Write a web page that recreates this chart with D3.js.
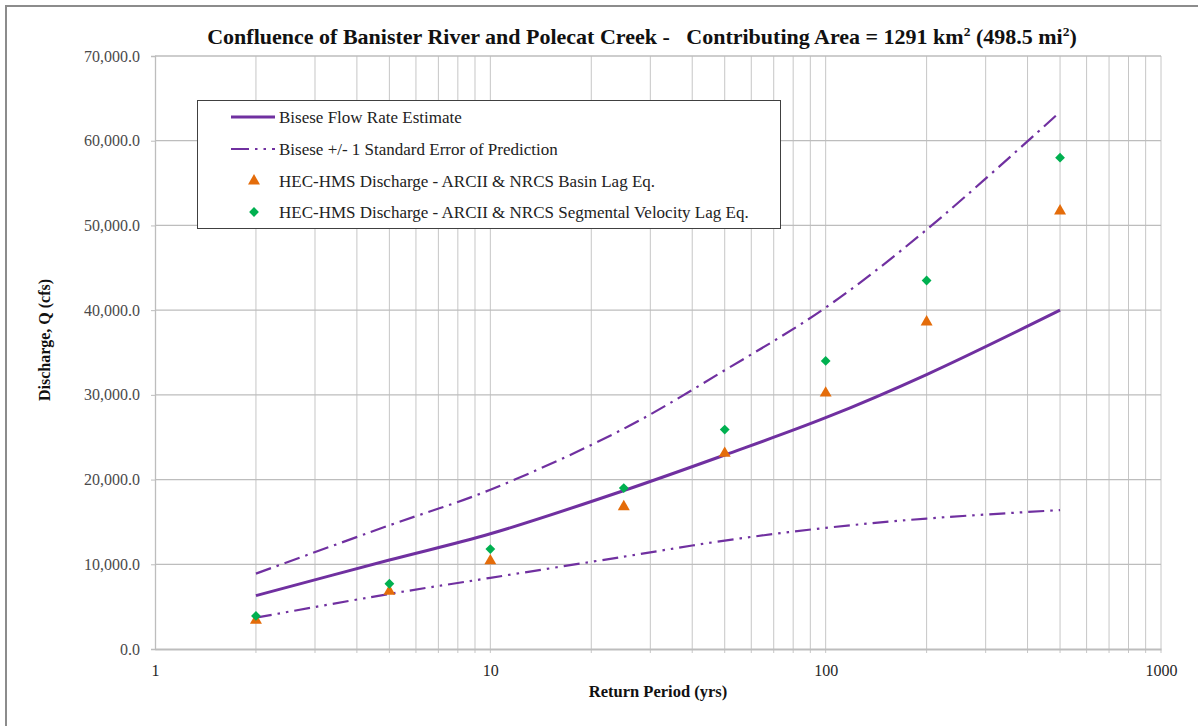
<!DOCTYPE html>
<html>
<head>
<meta charset="utf-8">
<script src="https://cdn.jsdelivr.net/npm/d3@7"></script>
<style>
  body { margin: 0; background: #fff; }
  svg { display: block; font-family: "Liberation Serif", "Times New Roman", serif; }
</style>
</head>
<body>
<svg id="chart"></svg>
<script>
// data
const periods   = [2, 5, 10, 25, 50, 100, 200, 500];
const bisese    = [6300, 10500, 13600, 18700, 22900, 27300, 32400, 40000];
const upperSE   = [8900, 14600, 18800, 26000, 32900, 40300, 49500, 63400];
const lowerSE   = [3700, 6500, 8400, 10900, 12800, 14300, 15400, 16400];
const basinLag  = [3400, 6800, 10400, 16800, 23100, 30200, 38600, 51700];
const segLag    = [3900, 7700, 11800, 19000, 25900, 34000, 43500, 58000];
const yTicks    = [0, 10000, 20000, 30000, 40000, 50000, 60000, 70000];
const xTicks    = [1, 10, 100, 1000];
const legendLabels = [
  'Bisese Flow Rate Estimate',
  'Bisese +/- 1 Standard Error of Prediction',
  'HEC-HMS Discharge - ARCII & NRCS Basin Lag Eq.',
  'HEC-HMS Discharge - ARCII & NRCS Segmental Velocity Lag Eq.'
];

const width = 1198, height = 726;
const plot = { left: 155, right: 1161, top: 56, bottom: 649 };
const purple = '#7030a0', orange = '#e46c0a', green = '#00b050', grid = '#c6c6c6';

const svg = d3.select('#chart').attr('width', width).attr('height', height);

// outer chart frame
svg.append('rect')
  .attr('x', 6).attr('y', 6).attr('width', 1200).attr('height', 740)
  .attr('fill', 'none').attr('stroke', '#8c8c8c').attr('stroke-width', 2);

// scales
const x = d3.scaleLog().domain([1, 1000]).range([plot.left, plot.right]);
const y = d3.scaleLinear().domain([0, 70000]).range([plot.bottom, plot.top]);

// minor log gridlines
const minor = [];
for (let dec = 1; dec < 1000; dec *= 10)
  for (let k = 1; k <= 9; k++) minor.push(dec * k);
minor.push(1000);

svg.append('g').attr('class', 'vgrid')
  .selectAll('line').data(minor.filter(d => d > 1)).join('line')
  .attr('x1', d => x(d)).attr('x2', d => x(d))
  .attr('y1', plot.top).attr('y2', plot.bottom + 4)
  .attr('stroke', grid).attr('stroke-width', 1);

svg.append('g').attr('class', 'hgrid')
  .selectAll('line').data(yTicks.slice(1)).join('line')
  .attr('x1', plot.left).attr('x2', plot.right)
  .attr('y1', d => y(d)).attr('y2', d => y(d))
  .attr('stroke', '#bdbdbd').attr('stroke-width', 1.3);

// y axis
const yAxis = svg.append('g')
  .attr('transform', `translate(${plot.left},0)`)
  .call(d3.axisLeft(y).tickValues(yTicks).tickSize(4).tickPadding(11)
    .tickFormat(d3.format(',.1f')));
yAxis.select('.domain').attr('stroke', '#bdbdbd').attr('stroke-width', 1.3);
yAxis.selectAll('.tick line').attr('stroke', '#bdbdbd');
yAxis.selectAll('.tick text')
  .attr('font-size', 16).attr('fill', '#4a4a4a')
  .attr('font-family', '"Liberation Serif", serif');

// x axis
const xAxis = svg.append('g')
  .attr('transform', `translate(0,${plot.bottom})`)
  .call(d3.axisBottom(x).tickValues(xTicks).tickSize(0).tickPadding(16)
    .tickFormat(d3.format('d')));
xAxis.select('.domain').attr('stroke', '#bdbdbd').attr('stroke-width', 2);
xAxis.selectAll('.tick text')
  .attr('font-size', 16).attr('fill', '#262626')
  .attr('font-family', '"Liberation Serif", serif');

// curves
const line = vals => d3.line()
  .x((d, i) => x(periods[i]))
  .y(d => y(d))
  .curve(d3.curveCatmullRom.alpha(0.5))(vals);

svg.append('path').attr('d', line(upperSE))
  .attr('fill', 'none').attr('stroke', purple).attr('stroke-width', 2.2)
  .attr('stroke-dasharray', '16,6,2.5,6');
svg.append('path').attr('d', line(lowerSE))
  .attr('fill', 'none').attr('stroke', purple).attr('stroke-width', 2.2)
  .attr('stroke-dasharray', '16,6,2.5,6,2.5,6');
svg.append('path').attr('d', line(bisese))
  .attr('fill', 'none').attr('stroke', purple).attr('stroke-width', 3);

// markers
const tri = d3.symbol().type(d3.symbolTriangle).size(62);
const dia = d3.symbol().type(d3.symbolSquare).size(48);

svg.append('g').selectAll('path').data(basinLag).join('path')
  .attr('d', tri)
  .attr('transform', (d, i) => `translate(${x(periods[i])},${y(d)})`)
  .attr('fill', orange);
svg.append('g').selectAll('path').data(segLag).join('path')
  .attr('d', dia)
  .attr('transform', (d, i) => `translate(${x(periods[i])},${y(d)}) rotate(45)`)
  .attr('fill', green);

// legend
const lg = svg.append('g').attr('class', 'legend');
lg.append('rect')
  .attr('x', 197.5).attr('y', 100.5).attr('width', 583).attr('height', 128)
  .attr('fill', '#fff').attr('stroke', '#404040').attr('stroke-width', 1);
const rowY = [117, 149, 181, 212];
const lx1 = 231, lx2 = 275;
lg.append('line').attr('x1', lx1).attr('x2', lx2).attr('y1', rowY[0]).attr('y2', rowY[0])
  .attr('stroke', purple).attr('stroke-width', 3);
lg.append('line').attr('x1', lx1).attr('x2', lx2).attr('y1', rowY[1]).attr('y2', rowY[1])
  .attr('stroke', purple).attr('stroke-width', 2.2).attr('stroke-dasharray', '18,6,2.5,6,2.5,6');
lg.append('path').attr('d', tri).attr('transform', `translate(254,${rowY[2]})`)
  .attr('fill', orange);
lg.append('path').attr('d', dia).attr('transform', `translate(254,${rowY[3]}) rotate(45)`)
  .attr('fill', green);
lg.selectAll('text.lab').data(legendLabels).join('text')
  .attr('class', 'lab')
  .attr('x', 279).attr('y', (d, i) => rowY[i]).attr('dy', '0.35em')
  .attr('font-size', 17).attr('fill', '#222')
  .text(d => d);

// title
const title = svg.append('text')
  .attr('x', 642).attr('y', 44).attr('text-anchor', 'middle')
  .style('white-space', 'pre')
  .attr('font-size', 22).attr('font-weight', 'bold').attr('fill', '#111');
title.append('tspan').text('Confluence of Banister River and Polecat Creek -   Contributing Area = 1291 km');
title.append('tspan').attr('font-size', 13.5).attr('dy', -8).text('2');
title.append('tspan').attr('dy', 8).text(' (498.5 mi');
title.append('tspan').attr('font-size', 13.5).attr('dy', -8).text('2');
title.append('tspan').attr('dy', 8).text(')');

// axis titles
svg.append('text')
  .attr('x', 658).attr('y', 697).attr('text-anchor', 'middle')
  .attr('font-size', 16.5).attr('font-weight', 'bold').attr('fill', '#111')
  .text('Return Period (yrs)');
svg.append('text')
  .attr('transform', 'translate(50,340) rotate(-90)')
  .attr('text-anchor', 'middle')
  .attr('font-size', 16).attr('font-weight', 'bold').attr('fill', '#111')
  .text('Discharge, Q (cfs)');
</script>
</body>
</html>
